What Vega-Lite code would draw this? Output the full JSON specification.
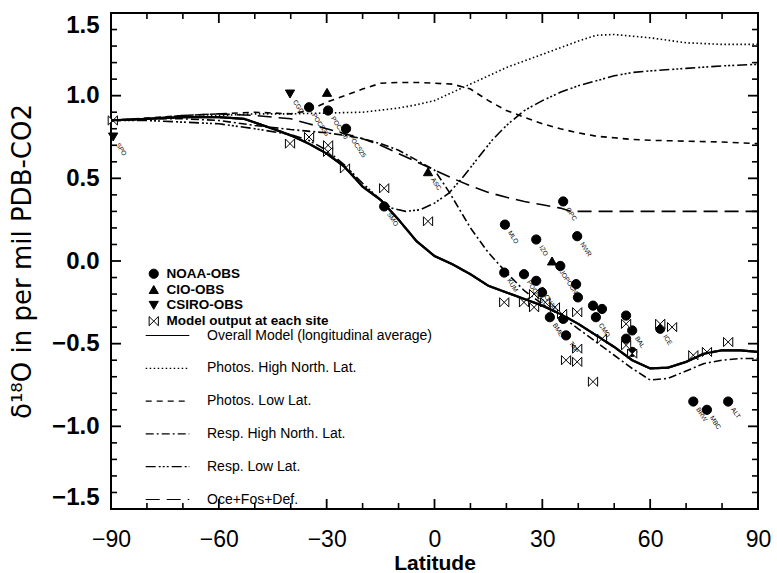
{
  "$schema": "https://vega.github.io/schema/vega-lite/v6.json",
  "width": 647,
  "height": 496,
  "autosize": {"type": "none"},
  "padding": {"left": 111, "top": 13, "right": 19, "bottom": 64},
  "background": "white",
  "config": {
    "view": {"stroke": "black", "strokeWidth": 2, "fill": null},
    "font": "Liberation Sans",
    "axis": {"grid": false, "domain": false, "ticks": false, "labelColor": "black", "titleColor": "black", "labelOverlap": false}
  },
  "datasets": {
    "xmaj": [{"lat": -90}, {"lat": -60}, {"lat": -30}, {"lat": 0}, {"lat": 30}, {"lat": 60}, {"lat": 90}],
    "xmin": [{"lat": -80}, {"lat": -70}, {"lat": -50}, {"lat": -40}, {"lat": -20}, {"lat": -10}, {"lat": 10}, {"lat": 20}, {"lat": 40}, {"lat": 50}, {"lat": 70}, {"lat": 80}],
    "ymaj": [{"v": -1.5}, {"v": -1.0}, {"v": -0.5}, {"v": 0}, {"v": 0.5}, {"v": 1.0}, {"v": 1.5}],
    "ymin": [{"v": -1.4}, {"v": -1.3}, {"v": -1.2}, {"v": -1.1}, {"v": -0.9}, {"v": -0.8}, {"v": -0.7}, {"v": -0.6}, {"v": -0.4}, {"v": -0.3}, {"v": -0.2}, {"v": -0.1}, {"v": 0.1}, {"v": 0.2}, {"v": 0.3}, {"v": 0.4}, {"v": 0.6}, {"v": 0.7}, {"v": 0.8}, {"v": 0.9}, {"v": 1.1}, {"v": 1.2}, {"v": 1.3}, {"v": 1.4}],
    "curves": [
      {"series": "Overall Model (longitudinal average)", "lat": -90, "v": 0.85},
      {"series": "Overall Model (longitudinal average)", "lat": -80, "v": 0.86},
      {"series": "Overall Model (longitudinal average)", "lat": -70, "v": 0.87},
      {"series": "Overall Model (longitudinal average)", "lat": -60, "v": 0.87},
      {"series": "Overall Model (longitudinal average)", "lat": -53, "v": 0.86},
      {"series": "Overall Model (longitudinal average)", "lat": -45, "v": 0.8},
      {"series": "Overall Model (longitudinal average)", "lat": -40, "v": 0.76},
      {"series": "Overall Model (longitudinal average)", "lat": -35, "v": 0.71},
      {"series": "Overall Model (longitudinal average)", "lat": -30, "v": 0.65},
      {"series": "Overall Model (longitudinal average)", "lat": -25, "v": 0.57},
      {"series": "Overall Model (longitudinal average)", "lat": -20, "v": 0.45},
      {"series": "Overall Model (longitudinal average)", "lat": -15, "v": 0.37},
      {"series": "Overall Model (longitudinal average)", "lat": -10, "v": 0.25},
      {"series": "Overall Model (longitudinal average)", "lat": -5, "v": 0.12},
      {"series": "Overall Model (longitudinal average)", "lat": 0, "v": 0.03},
      {"series": "Overall Model (longitudinal average)", "lat": 5, "v": -0.02},
      {"series": "Overall Model (longitudinal average)", "lat": 10, "v": -0.08},
      {"series": "Overall Model (longitudinal average)", "lat": 15, "v": -0.15},
      {"series": "Overall Model (longitudinal average)", "lat": 20, "v": -0.19},
      {"series": "Overall Model (longitudinal average)", "lat": 25, "v": -0.23},
      {"series": "Overall Model (longitudinal average)", "lat": 30, "v": -0.27},
      {"series": "Overall Model (longitudinal average)", "lat": 35, "v": -0.32},
      {"series": "Overall Model (longitudinal average)", "lat": 40, "v": -0.38},
      {"series": "Overall Model (longitudinal average)", "lat": 45, "v": -0.45},
      {"series": "Overall Model (longitudinal average)", "lat": 50, "v": -0.52},
      {"series": "Overall Model (longitudinal average)", "lat": 55, "v": -0.6},
      {"series": "Overall Model (longitudinal average)", "lat": 60, "v": -0.65},
      {"series": "Overall Model (longitudinal average)", "lat": 65, "v": -0.645},
      {"series": "Overall Model (longitudinal average)", "lat": 70, "v": -0.61},
      {"series": "Overall Model (longitudinal average)", "lat": 75, "v": -0.56},
      {"series": "Overall Model (longitudinal average)", "lat": 80, "v": -0.54},
      {"series": "Overall Model (longitudinal average)", "lat": 85, "v": -0.54},
      {"series": "Overall Model (longitudinal average)", "lat": 90, "v": -0.55},

      {"series": "Photos. High North. Lat.", "lat": -90, "v": 0.85},
      {"series": "Photos. High North. Lat.", "lat": -80, "v": 0.86},
      {"series": "Photos. High North. Lat.", "lat": -70, "v": 0.87},
      {"series": "Photos. High North. Lat.", "lat": -60, "v": 0.88},
      {"series": "Photos. High North. Lat.", "lat": -50, "v": 0.89},
      {"series": "Photos. High North. Lat.", "lat": -40, "v": 0.89},
      {"series": "Photos. High North. Lat.", "lat": -30, "v": 0.895},
      {"series": "Photos. High North. Lat.", "lat": -20, "v": 0.9},
      {"series": "Photos. High North. Lat.", "lat": -10, "v": 0.925},
      {"series": "Photos. High North. Lat.", "lat": -5, "v": 0.945},
      {"series": "Photos. High North. Lat.", "lat": 0, "v": 0.97},
      {"series": "Photos. High North. Lat.", "lat": 5, "v": 1.02},
      {"series": "Photos. High North. Lat.", "lat": 10, "v": 1.07},
      {"series": "Photos. High North. Lat.", "lat": 15, "v": 1.12},
      {"series": "Photos. High North. Lat.", "lat": 20, "v": 1.17},
      {"series": "Photos. High North. Lat.", "lat": 25, "v": 1.21},
      {"series": "Photos. High North. Lat.", "lat": 30, "v": 1.25},
      {"series": "Photos. High North. Lat.", "lat": 35, "v": 1.29},
      {"series": "Photos. High North. Lat.", "lat": 40, "v": 1.33},
      {"series": "Photos. High North. Lat.", "lat": 45, "v": 1.365},
      {"series": "Photos. High North. Lat.", "lat": 50, "v": 1.37},
      {"series": "Photos. High North. Lat.", "lat": 55, "v": 1.36},
      {"series": "Photos. High North. Lat.", "lat": 60, "v": 1.35},
      {"series": "Photos. High North. Lat.", "lat": 65, "v": 1.335},
      {"series": "Photos. High North. Lat.", "lat": 70, "v": 1.32},
      {"series": "Photos. High North. Lat.", "lat": 75, "v": 1.315},
      {"series": "Photos. High North. Lat.", "lat": 80, "v": 1.31},
      {"series": "Photos. High North. Lat.", "lat": 90, "v": 1.31},

      {"series": "Photos. Low Lat.", "lat": -90, "v": 0.85},
      {"series": "Photos. Low Lat.", "lat": -80, "v": 0.865},
      {"series": "Photos. Low Lat.", "lat": -70, "v": 0.88},
      {"series": "Photos. Low Lat.", "lat": -60, "v": 0.89},
      {"series": "Photos. Low Lat.", "lat": -50, "v": 0.9},
      {"series": "Photos. Low Lat.", "lat": -40, "v": 0.89},
      {"series": "Photos. Low Lat.", "lat": -35, "v": 0.91},
      {"series": "Photos. Low Lat.", "lat": -30, "v": 0.96},
      {"series": "Photos. Low Lat.", "lat": -25, "v": 1.0},
      {"series": "Photos. Low Lat.", "lat": -20, "v": 1.04},
      {"series": "Photos. Low Lat.", "lat": -15, "v": 1.075},
      {"series": "Photos. Low Lat.", "lat": -10, "v": 1.08},
      {"series": "Photos. Low Lat.", "lat": -5, "v": 1.08},
      {"series": "Photos. Low Lat.", "lat": 0, "v": 1.075},
      {"series": "Photos. Low Lat.", "lat": 5, "v": 1.07},
      {"series": "Photos. Low Lat.", "lat": 10, "v": 1.04},
      {"series": "Photos. Low Lat.", "lat": 15, "v": 0.97},
      {"series": "Photos. Low Lat.", "lat": 20, "v": 0.91},
      {"series": "Photos. Low Lat.", "lat": 25, "v": 0.87},
      {"series": "Photos. Low Lat.", "lat": 30, "v": 0.83},
      {"series": "Photos. Low Lat.", "lat": 35, "v": 0.8},
      {"series": "Photos. Low Lat.", "lat": 40, "v": 0.775},
      {"series": "Photos. Low Lat.", "lat": 45, "v": 0.755},
      {"series": "Photos. Low Lat.", "lat": 50, "v": 0.745},
      {"series": "Photos. Low Lat.", "lat": 55, "v": 0.735},
      {"series": "Photos. Low Lat.", "lat": 60, "v": 0.73},
      {"series": "Photos. Low Lat.", "lat": 70, "v": 0.725},
      {"series": "Photos. Low Lat.", "lat": 80, "v": 0.72},
      {"series": "Photos. Low Lat.", "lat": 90, "v": 0.71},

      {"series": "Resp. High North. Lat.", "lat": -90, "v": 0.85},
      {"series": "Resp. High North. Lat.", "lat": -80, "v": 0.86},
      {"series": "Resp. High North. Lat.", "lat": -70, "v": 0.86},
      {"series": "Resp. High North. Lat.", "lat": -60, "v": 0.85},
      {"series": "Resp. High North. Lat.", "lat": -50, "v": 0.82},
      {"series": "Resp. High North. Lat.", "lat": -40, "v": 0.795},
      {"series": "Resp. High North. Lat.", "lat": -30, "v": 0.775},
      {"series": "Resp. High North. Lat.", "lat": -25, "v": 0.76},
      {"series": "Resp. High North. Lat.", "lat": -20, "v": 0.74},
      {"series": "Resp. High North. Lat.", "lat": -15, "v": 0.71},
      {"series": "Resp. High North. Lat.", "lat": -10, "v": 0.67},
      {"series": "Resp. High North. Lat.", "lat": -5, "v": 0.61},
      {"series": "Resp. High North. Lat.", "lat": 0, "v": 0.55},
      {"series": "Resp. High North. Lat.", "lat": 4, "v": 0.42},
      {"series": "Resp. High North. Lat.", "lat": 10, "v": 0.2},
      {"series": "Resp. High North. Lat.", "lat": 15, "v": 0.05},
      {"series": "Resp. High North. Lat.", "lat": 20, "v": -0.07},
      {"series": "Resp. High North. Lat.", "lat": 25, "v": -0.18},
      {"series": "Resp. High North. Lat.", "lat": 30, "v": -0.26},
      {"series": "Resp. High North. Lat.", "lat": 35, "v": -0.33},
      {"series": "Resp. High North. Lat.", "lat": 40, "v": -0.41},
      {"series": "Resp. High North. Lat.", "lat": 45, "v": -0.49},
      {"series": "Resp. High North. Lat.", "lat": 50, "v": -0.57},
      {"series": "Resp. High North. Lat.", "lat": 55, "v": -0.65},
      {"series": "Resp. High North. Lat.", "lat": 60, "v": -0.72},
      {"series": "Resp. High North. Lat.", "lat": 65, "v": -0.71},
      {"series": "Resp. High North. Lat.", "lat": 70, "v": -0.665},
      {"series": "Resp. High North. Lat.", "lat": 75, "v": -0.62},
      {"series": "Resp. High North. Lat.", "lat": 80, "v": -0.6},
      {"series": "Resp. High North. Lat.", "lat": 85, "v": -0.59},
      {"series": "Resp. High North. Lat.", "lat": 90, "v": -0.59},

      {"series": "Resp. Low Lat.", "lat": -90, "v": 0.85},
      {"series": "Resp. Low Lat.", "lat": -80, "v": 0.85},
      {"series": "Resp. Low Lat.", "lat": -70, "v": 0.84},
      {"series": "Resp. Low Lat.", "lat": -60, "v": 0.83},
      {"series": "Resp. Low Lat.", "lat": -50, "v": 0.8},
      {"series": "Resp. Low Lat.", "lat": -40, "v": 0.765},
      {"series": "Resp. Low Lat.", "lat": -35, "v": 0.73},
      {"series": "Resp. Low Lat.", "lat": -30, "v": 0.67},
      {"series": "Resp. Low Lat.", "lat": -25, "v": 0.58},
      {"series": "Resp. Low Lat.", "lat": -20, "v": 0.47},
      {"series": "Resp. Low Lat.", "lat": -15, "v": 0.37},
      {"series": "Resp. Low Lat.", "lat": -12, "v": 0.32},
      {"series": "Resp. Low Lat.", "lat": -8, "v": 0.3},
      {"series": "Resp. Low Lat.", "lat": -4, "v": 0.31},
      {"series": "Resp. Low Lat.", "lat": 0, "v": 0.35},
      {"series": "Resp. Low Lat.", "lat": 4, "v": 0.41},
      {"series": "Resp. Low Lat.", "lat": 8, "v": 0.51},
      {"series": "Resp. Low Lat.", "lat": 12, "v": 0.62},
      {"series": "Resp. Low Lat.", "lat": 16, "v": 0.73},
      {"series": "Resp. Low Lat.", "lat": 20, "v": 0.82},
      {"series": "Resp. Low Lat.", "lat": 25, "v": 0.91},
      {"series": "Resp. Low Lat.", "lat": 30, "v": 0.97},
      {"series": "Resp. Low Lat.", "lat": 35, "v": 1.02},
      {"series": "Resp. Low Lat.", "lat": 40, "v": 1.06},
      {"series": "Resp. Low Lat.", "lat": 45, "v": 1.09},
      {"series": "Resp. Low Lat.", "lat": 50, "v": 1.12},
      {"series": "Resp. Low Lat.", "lat": 55, "v": 1.14},
      {"series": "Resp. Low Lat.", "lat": 60, "v": 1.15},
      {"series": "Resp. Low Lat.", "lat": 70, "v": 1.165},
      {"series": "Resp. Low Lat.", "lat": 80, "v": 1.18},
      {"series": "Resp. Low Lat.", "lat": 90, "v": 1.19},

      {"series": "Oce+Fos+Def.", "lat": -90, "v": 0.85},
      {"series": "Oce+Fos+Def.", "lat": -80, "v": 0.86},
      {"series": "Oce+Fos+Def.", "lat": -70, "v": 0.88},
      {"series": "Oce+Fos+Def.", "lat": -60, "v": 0.89},
      {"series": "Oce+Fos+Def.", "lat": -50, "v": 0.88},
      {"series": "Oce+Fos+Def.", "lat": -40, "v": 0.86},
      {"series": "Oce+Fos+Def.", "lat": -35, "v": 0.83},
      {"series": "Oce+Fos+Def.", "lat": -30, "v": 0.8},
      {"series": "Oce+Fos+Def.", "lat": -25, "v": 0.77},
      {"series": "Oce+Fos+Def.", "lat": -20, "v": 0.74},
      {"series": "Oce+Fos+Def.", "lat": -15, "v": 0.7},
      {"series": "Oce+Fos+Def.", "lat": -10, "v": 0.65},
      {"series": "Oce+Fos+Def.", "lat": -5, "v": 0.6},
      {"series": "Oce+Fos+Def.", "lat": 0, "v": 0.55},
      {"series": "Oce+Fos+Def.", "lat": 5, "v": 0.5},
      {"series": "Oce+Fos+Def.", "lat": 10, "v": 0.455},
      {"series": "Oce+Fos+Def.", "lat": 15, "v": 0.415},
      {"series": "Oce+Fos+Def.", "lat": 20, "v": 0.385},
      {"series": "Oce+Fos+Def.", "lat": 25, "v": 0.36},
      {"series": "Oce+Fos+Def.", "lat": 30, "v": 0.34},
      {"series": "Oce+Fos+Def.", "lat": 35, "v": 0.32},
      {"series": "Oce+Fos+Def.", "lat": 38, "v": 0.3},
      {"series": "Oce+Fos+Def.", "lat": 45, "v": 0.3},
      {"series": "Oce+Fos+Def.", "lat": 60, "v": 0.3},
      {"series": "Oce+Fos+Def.", "lat": 75, "v": 0.3},
      {"series": "Oce+Fos+Def.", "lat": 90, "v": 0.3}
    ],
    "points": [
      {"src": "NOAA-OBS", "lat": -34.9, "v": 0.93},
      {"src": "NOAA-OBS", "lat": -29.6, "v": 0.91},
      {"src": "NOAA-OBS", "lat": -24.6, "v": 0.8},
      {"src": "NOAA-OBS", "lat": -14.0, "v": 0.33},
      {"src": "NOAA-OBS", "lat": 35.8, "v": 0.36},
      {"src": "NOAA-OBS", "lat": 19.6, "v": 0.22},
      {"src": "NOAA-OBS", "lat": 28.3, "v": 0.13},
      {"src": "NOAA-OBS", "lat": 39.7, "v": 0.15},
      {"src": "NOAA-OBS", "lat": 35.0, "v": -0.03},
      {"src": "NOAA-OBS", "lat": 19.4, "v": -0.07},
      {"src": "NOAA-OBS", "lat": 24.9, "v": -0.08},
      {"src": "NOAA-OBS", "lat": 28.3, "v": -0.12},
      {"src": "NOAA-OBS", "lat": 29.9, "v": -0.19},
      {"src": "NOAA-OBS", "lat": 39.4, "v": -0.14},
      {"src": "NOAA-OBS", "lat": 39.9, "v": -0.22},
      {"src": "NOAA-OBS", "lat": 44.1, "v": -0.27},
      {"src": "NOAA-OBS", "lat": 46.6, "v": -0.29},
      {"src": "NOAA-OBS", "lat": 44.9, "v": -0.34},
      {"src": "NOAA-OBS", "lat": 32.1, "v": -0.34},
      {"src": "NOAA-OBS", "lat": 35.8, "v": -0.35},
      {"src": "NOAA-OBS", "lat": 36.6, "v": -0.45},
      {"src": "NOAA-OBS", "lat": 53.3, "v": -0.33},
      {"src": "NOAA-OBS", "lat": 55.0, "v": -0.42},
      {"src": "NOAA-OBS", "lat": 53.3, "v": -0.47},
      {"src": "NOAA-OBS", "lat": 55.0, "v": -0.55},
      {"src": "NOAA-OBS", "lat": 62.8, "v": -0.41},
      {"src": "NOAA-OBS", "lat": 72.0, "v": -0.85},
      {"src": "NOAA-OBS", "lat": 75.8, "v": -0.9},
      {"src": "NOAA-OBS", "lat": 81.7, "v": -0.85},
      {"src": "CIO-OBS", "lat": -29.9, "v": 1.02},
      {"src": "CIO-OBS", "lat": -1.8, "v": 0.54},
      {"src": "CIO-OBS", "lat": 32.7, "v": 0.0},
      {"src": "CSIRO-OBS", "lat": -89.4, "v": 0.75},
      {"src": "CSIRO-OBS", "lat": -40.2, "v": 1.01},
      {"src": "Model output at each site", "lat": -89.5, "v": 0.85},
      {"src": "Model output at each site", "lat": -40.2, "v": 0.71},
      {"src": "Model output at each site", "lat": -34.9, "v": 0.75},
      {"src": "Model output at each site", "lat": -29.6, "v": 0.7},
      {"src": "Model output at each site", "lat": -29.6, "v": 0.66},
      {"src": "Model output at each site", "lat": -24.9, "v": 0.56},
      {"src": "Model output at each site", "lat": -14.0, "v": 0.44},
      {"src": "Model output at each site", "lat": -1.8, "v": 0.24},
      {"src": "Model output at each site", "lat": 19.4, "v": -0.25},
      {"src": "Model output at each site", "lat": 24.9, "v": -0.25},
      {"src": "Model output at each site", "lat": 27.7, "v": -0.2},
      {"src": "Model output at each site", "lat": 27.7, "v": -0.28},
      {"src": "Model output at each site", "lat": 30.8, "v": -0.25},
      {"src": "Model output at each site", "lat": 33.5, "v": -0.28},
      {"src": "Model output at each site", "lat": 35.5, "v": -0.32},
      {"src": "Model output at each site", "lat": 39.7, "v": -0.31},
      {"src": "Model output at each site", "lat": 39.7, "v": -0.53},
      {"src": "Model output at each site", "lat": 36.6, "v": -0.6},
      {"src": "Model output at each site", "lat": 39.7, "v": -0.61},
      {"src": "Model output at each site", "lat": 44.1, "v": -0.73},
      {"src": "Model output at each site", "lat": 46.6, "v": -0.47},
      {"src": "Model output at each site", "lat": 53.3, "v": -0.38},
      {"src": "Model output at each site", "lat": 53.3, "v": -0.51},
      {"src": "Model output at each site", "lat": 55.0, "v": -0.56},
      {"src": "Model output at each site", "lat": 62.8, "v": -0.38},
      {"src": "Model output at each site", "lat": 66.1, "v": -0.4},
      {"src": "Model output at each site", "lat": 72.0, "v": -0.57},
      {"src": "Model output at each site", "lat": 75.8, "v": -0.55},
      {"src": "Model output at each site", "lat": 81.7, "v": -0.49}
    ],
    "labels": [
      {"name": "SPO", "lat": -89.4, "v": 0.75},
      {"name": "CGO", "lat": -40.2, "v": 1.01},
      {"name": "POCS35", "lat": -34.9, "v": 0.93},
      {"name": "POCS30", "lat": -29.6, "v": 0.91},
      {"name": "POCS25", "lat": -24.6, "v": 0.8},
      {"name": "SMO", "lat": -14.0, "v": 0.33},
      {"name": "ASC", "lat": -1.8, "v": 0.54},
      {"name": "OPC", "lat": 35.8, "v": 0.36},
      {"name": "MLO", "lat": 19.6, "v": 0.22},
      {"name": "IZO", "lat": 28.3, "v": 0.13},
      {"name": "NWR", "lat": 39.7, "v": 0.15},
      {"name": "LJOPOCN35", "lat": 33.5, "v": 0.0},
      {"name": "KUM", "lat": 19.4, "v": -0.07},
      {"name": "POCN25", "lat": 24.9, "v": -0.08},
      {"name": "POCN30", "lat": 28.3, "v": -0.12},
      {"name": "BME", "lat": 32.1, "v": -0.34},
      {"name": "TAP", "lat": 36.6, "v": -0.45},
      {"name": "CMO", "lat": 44.9, "v": -0.34},
      {"name": "BAL", "lat": 55.0, "v": -0.42},
      {"name": "ICE", "lat": 62.8, "v": -0.41},
      {"name": "BRW", "lat": 72.0, "v": -0.85},
      {"name": "MBC", "lat": 75.8, "v": -0.9},
      {"name": "ALT", "lat": 81.7, "v": -0.85}
    ]
  },
  "layer": [
    {
      "data": {"name": "curves"},
      "mark": {"type": "line", "color": "black", "strokeCap": "butt"},
      "encoding": {
        "x": {
          "field": "lat", "type": "quantitative",
          "scale": {"domain": [-90, 90], "nice": false, "zero": false},
          "axis": {
            "orient": "bottom",
            "values": [-90, -60, -30, 0, 30, 60, 90],
            "labelFlush": false,
            "labelFontSize": 23,
            "labelPadding": 19,
            "title": "Latitude",
            "titleFontSize": 21,
            "titleFontWeight": "bold",
            "titlePadding": 1
          }
        },
        "y": {
          "field": "v", "type": "quantitative",
          "scale": {"domain": [-1.5, 1.5], "nice": false, "zero": false},
          "axis": {
            "orient": "left",
            "values": [-1.5, -1.0, -0.5, 0, 0.5, 1.0, 1.5],
            "format": ".1f",
            "labelFlush": true,
            "labelFontSize": 24,
            "labelFontWeight": "bold",
            "labelPadding": 12,
            "title": "δ¹⁸O in per mil PDB-CO2",
            "titleFont": "DejaVu Sans",
            "titleFontSize": 26,
            "titleFontWeight": "normal",
            "titlePadding": 16
          }
        },
        "strokeDash": {
          "field": "series", "type": "nominal",
          "scale": {
            "domain": ["Overall Model (longitudinal average)", "Photos. High North. Lat.", "Photos. Low Lat.", "Resp. High North. Lat.", "Resp. Low Lat.", "Oce+Fos+Def."],
            "range": [[1, 0], [1.5, 2.5], [6, 5], [8, 3, 2, 3], [10, 3, 2, 2, 2, 2, 2, 3], [14, 7]]
          },
          "legend": {
            "title": null, "orient": "none", "legendX": 34, "legendY": 300,
            "symbolType": "stroke", "symbolSize": 1900, "symbolStrokeWidth": 1.2, "symbolStrokeColor": "black",
            "labelFontSize": 14, "labelOffset": 17, "rowPadding": 2.8, "labelColor": "black", "labelLimit": 400
          }
        },
        "strokeWidth": {"condition": {"test": "datum.series === 'Overall Model (longitudinal average)'", "value": 2.2}, "value": 1.6}
      }
    },
    {
      "data": {"name": "points"},
      "mark": {"type": "point", "strokeWidth": 1, "opacity": 1, "size": 85},
      "encoding": {
        "x": {"field": "lat", "type": "quantitative", "scale": {"domain": [-90, 90], "nice": false, "zero": false}, "axis": null},
        "y": {"field": "v", "type": "quantitative", "scale": {"domain": [-1.5, 1.5], "nice": false, "zero": false}, "axis": null},
        "stroke": {
          "field": "src", "type": "nominal",
          "scale": {"domain": ["NOAA-OBS", "CIO-OBS", "CSIRO-OBS", "Model output at each site"], "range": ["black", "black", "black", "black"]},
          "legend": {
            "title": null, "orient": "none", "legendX": 36, "legendY": 254,
            "symbolSize": 85, "symbolStrokeWidth": 1,
            "labelFontSize": 13.5, "labelFontWeight": "bold", "labelOffset": 6, "rowPadding": 0.8, "labelColor": "black", "labelLimit": 300
          }
        },
        "shape": {
          "field": "src", "type": "nominal",
          "scale": {"domain": ["NOAA-OBS", "CIO-OBS", "CSIRO-OBS", "Model output at each site"], "range": ["circle", "triangle-up", "triangle-down", "M-1,-1L1,1L1,-1L-1,1Z"]},
          "legend": {
            "title": null, "orient": "none", "legendX": 36, "legendY": 254,
            "symbolSize": 85, "symbolStrokeWidth": 1,
            "labelFontSize": 13.5, "labelFontWeight": "bold", "labelOffset": 6, "rowPadding": 0.8, "labelColor": "black", "labelLimit": 300
          }
        },
        "fill": {
          "field": "src", "type": "nominal",
          "scale": {"domain": ["NOAA-OBS", "CIO-OBS", "CSIRO-OBS", "Model output at each site"], "range": ["black", "black", "black", "white"]},
          "legend": {
            "title": null, "orient": "none", "legendX": 36, "legendY": 254,
            "symbolSize": 85, "symbolStrokeWidth": 1,
            "labelFontSize": 13.5, "labelFontWeight": "bold", "labelOffset": 6, "rowPadding": 0.8, "labelColor": "black", "labelLimit": 300
          }
        }
      }
    },
    {
      "data": {"name": "labels"},
      "mark": {"type": "text", "fontSize": 6.5, "angle": 57, "align": "left", "baseline": "middle", "dx": 8, "dy": 0, "color": "black"},
      "encoding": {
        "x": {"field": "lat", "type": "quantitative", "scale": {"domain": [-90, 90], "nice": false, "zero": false}, "axis": null},
        "y": {"field": "v", "type": "quantitative", "scale": {"domain": [-1.5, 1.5], "nice": false, "zero": false}, "axis": null},
        "text": {"field": "name"}
      }
    },
    {
      "data": {"name": "curves"},
      "transform": [{"filter": "datum.series === 'Overall Model (longitudinal average)'"}],
      "mark": {"type": "line", "color": "black", "strokeWidth": 2.2},
      "encoding": {
        "x": {"field": "lat", "type": "quantitative", "scale": {"domain": [-90, 90], "nice": false, "zero": false}, "axis": null},
        "y": {"field": "v", "type": "quantitative", "scale": {"domain": [-1.5, 1.5], "nice": false, "zero": false}, "axis": null}
      }
    },
    {
      "data": {"name": "xmaj"},
      "mark": {"type": "point", "shape": "M0,-1L0,1", "size": 100, "filled": false, "stroke": "black", "strokeWidth": 1.8, "opacity": 1, "yOffset": -5},
      "encoding": {
        "x": {"field": "lat", "type": "quantitative", "scale": {"domain": [-90, 90], "nice": false, "zero": false}, "axis": null},
        "y": {"datum": -1.5, "type": "quantitative", "scale": {"domain": [-1.5, 1.5], "nice": false, "zero": false}, "axis": null}
      }
    },
    {
      "data": {"name": "xmaj"},
      "mark": {"type": "point", "shape": "M0,-1L0,1", "size": 100, "filled": false, "stroke": "black", "strokeWidth": 1.8, "opacity": 1, "yOffset": 5},
      "encoding": {
        "x": {"field": "lat", "type": "quantitative", "scale": {"domain": [-90, 90], "nice": false, "zero": false}, "axis": null},
        "y": {"datum": 1.5, "type": "quantitative", "scale": {"domain": [-1.5, 1.5], "nice": false, "zero": false}, "axis": null}
      }
    },
    {
      "data": {"name": "xmin"},
      "mark": {"type": "point", "shape": "M0,-1L0,1", "size": 36, "filled": false, "stroke": "black", "strokeWidth": 1.6, "opacity": 1, "yOffset": -3},
      "encoding": {
        "x": {"field": "lat", "type": "quantitative", "scale": {"domain": [-90, 90], "nice": false, "zero": false}, "axis": null},
        "y": {"datum": -1.5, "type": "quantitative", "scale": {"domain": [-1.5, 1.5], "nice": false, "zero": false}, "axis": null}
      }
    },
    {
      "data": {"name": "xmin"},
      "mark": {"type": "point", "shape": "M0,-1L0,1", "size": 36, "filled": false, "stroke": "black", "strokeWidth": 1.6, "opacity": 1, "yOffset": 3},
      "encoding": {
        "x": {"field": "lat", "type": "quantitative", "scale": {"domain": [-90, 90], "nice": false, "zero": false}, "axis": null},
        "y": {"datum": 1.5, "type": "quantitative", "scale": {"domain": [-1.5, 1.5], "nice": false, "zero": false}, "axis": null}
      }
    },
    {
      "data": {"name": "ymaj"},
      "mark": {"type": "point", "shape": "M-1,0L1,0", "size": 100, "filled": false, "stroke": "black", "strokeWidth": 1.8, "opacity": 1, "xOffset": 5},
      "encoding": {
        "y": {"field": "v", "type": "quantitative", "scale": {"domain": [-1.5, 1.5], "nice": false, "zero": false}, "axis": null},
        "x": {"datum": -90, "type": "quantitative", "scale": {"domain": [-90, 90], "nice": false, "zero": false}, "axis": null}
      }
    },
    {
      "data": {"name": "ymaj"},
      "mark": {"type": "point", "shape": "M-1,0L1,0", "size": 100, "filled": false, "stroke": "black", "strokeWidth": 1.8, "opacity": 1, "xOffset": -5},
      "encoding": {
        "y": {"field": "v", "type": "quantitative", "scale": {"domain": [-1.5, 1.5], "nice": false, "zero": false}, "axis": null},
        "x": {"datum": 90, "type": "quantitative", "scale": {"domain": [-90, 90], "nice": false, "zero": false}, "axis": null}
      }
    },
    {
      "data": {"name": "ymin"},
      "mark": {"type": "point", "shape": "M-1,0L1,0", "size": 36, "filled": false, "stroke": "black", "strokeWidth": 1.6, "opacity": 1, "xOffset": 3},
      "encoding": {
        "y": {"field": "v", "type": "quantitative", "scale": {"domain": [-1.5, 1.5], "nice": false, "zero": false}, "axis": null},
        "x": {"datum": -90, "type": "quantitative", "scale": {"domain": [-90, 90], "nice": false, "zero": false}, "axis": null}
      }
    },
    {
      "data": {"name": "ymin"},
      "mark": {"type": "point", "shape": "M-1,0L1,0", "size": 36, "filled": false, "stroke": "black", "strokeWidth": 1.6, "opacity": 1, "xOffset": -3},
      "encoding": {
        "y": {"field": "v", "type": "quantitative", "scale": {"domain": [-1.5, 1.5], "nice": false, "zero": false}, "axis": null},
        "x": {"datum": 90, "type": "quantitative", "scale": {"domain": [-90, 90], "nice": false, "zero": false}, "axis": null}
      }
    }
  ],
  "resolve": {"axis": {"x": "independent", "y": "independent"}}
}
